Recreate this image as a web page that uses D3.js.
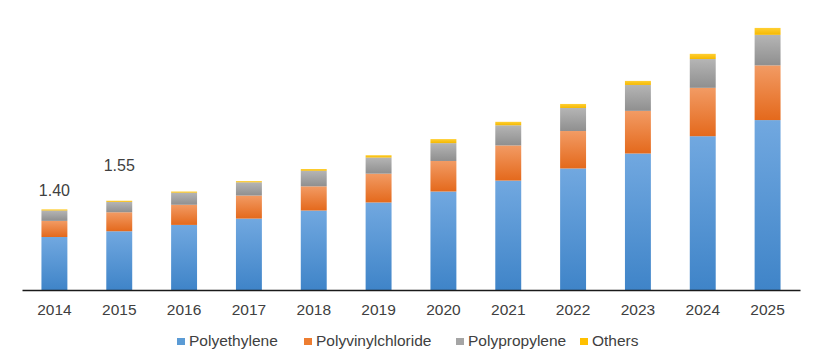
<!DOCTYPE html>
<html>
<head>
<meta charset="utf-8">
<script src="https://cdn.jsdelivr.net/npm/d3@7/dist/d3.min.js"></script>
<style>
  html, body { margin: 0; padding: 0; background: #fff; }
  svg { display: block; font-family: "Liberation Sans", Arial, sans-serif; }
</style>
</head>
<body>
<svg id="chart" width="820" height="350"></svg>
<script>
const years = ["2014","2015","2016","2017","2018","2019","2020","2021","2022","2023","2024","2025"];
const polyethylene      = [0.92, 1.02, 1.13, 1.24, 1.38, 1.52, 1.71, 1.90, 2.11, 2.37, 2.67, 2.95];
const polyvinylchloride = [0.28, 0.33, 0.35, 0.40, 0.42, 0.50, 0.53, 0.61, 0.65, 0.74, 0.84, 0.95];
const polypropylene     = [0.18, 0.18, 0.21, 0.23, 0.27, 0.28, 0.31, 0.35, 0.40, 0.45, 0.50, 0.53];
const others            = [0.02, 0.02, 0.02, 0.02, 0.03, 0.04, 0.07, 0.06, 0.07, 0.07, 0.09, 0.12];
const seriesNames = ["Polyethylene", "Polyvinylchloride", "Polypropylene", "Others"];
const valueLabels = [{year: "2014", text: "1.40"}, {year: "2015", text: "1.55"}];

const colors = {
  "Polyethylene":      ["#71a8e0", "#3f84c8"],
  "Polyvinylchloride": ["#f29b64", "#e4691c"],
  "Polypropylene":     ["#b5b5b5", "#8f8f8f"],
  "Others":            ["#ffcf33", "#f5b800"]
};
const legendColors = {
  "Polyethylene": "#5b9bd5", "Polyvinylchloride": "#ed7d31",
  "Polypropylene": "#a5a5a5", "Others": "#ffc000"
};

const rows = years.map((y, i) => ({
  year: y,
  "Polyethylene": polyethylene[i],
  "Polyvinylchloride": polyvinylchloride[i],
  "Polypropylene": polypropylene[i],
  "Others": others[i]
}));

const svg = d3.select("#chart");
const x = d3.scaleBand().domain(years).range([22, 800]).paddingInner(0.6).paddingOuter(0.3);
const y = d3.scaleLinear().domain([0, 5]).range([290, 2]);

const defs = svg.append("defs");
seriesNames.forEach((s, i) => {
  const g = defs.append("linearGradient").attr("id", "g" + i)
    .attr("x1", 0).attr("y1", 0).attr("x2", 0).attr("y2", 1);
  g.append("stop").attr("offset", "0%").attr("stop-color", colors[s][0]);
  g.append("stop").attr("offset", "100%").attr("stop-color", colors[s][1]);
});

const stacked = d3.stack().keys(seriesNames)(rows);

svg.append("g").selectAll("g").data(stacked).join("g")
  .attr("fill", (d, i) => `url(#g${i})`)
  .selectAll("rect").data(d => d).join("rect")
  .attr("x", d => x(d.data.year))
  .attr("width", x.bandwidth())
  .attr("y", d => y(d[1]))
  .attr("height", d => y(d[0]) - y(d[1]));

// axis
const xAxis = svg.append("g").attr("transform", "translate(0,290)")
  .call(d3.axisBottom(x).tickSize(0).tickPadding(10));
xAxis.select(".domain").attr("stroke", "#1a1a1a").attr("stroke-width", 1.5);
xAxis.selectAll("text").attr("font-size", "15.5px").attr("fill", "#404040")
  .attr("font-family", "Liberation Sans, Arial, sans-serif").attr("dy", "0.95em");

// value labels
const labelOffsets = {"2014": 13, "2015": 30};
svg.append("g").selectAll("text").data(valueLabels).join("text")
  .attr("x", d => x(d.year) + x.bandwidth() / 2)
  .attr("y", d => {
    const i = years.indexOf(d.year);
    const total = polyethylene[i] + polyvinylchloride[i] + polypropylene[i] + others[i];
    return y(total) - labelOffsets[d.year];
  })
  .attr("text-anchor", "middle")
  .attr("font-size", "16px")
  .attr("fill", "#404040")
  .text(d => d.text);

// legend
const legendX = [177, 304, 456, 580];
const lg = svg.append("g").selectAll("g").data(seriesNames).join("g")
  .attr("transform", (d, i) => `translate(${legendX[i]},0)`);
lg.append("rect").attr("x", 0).attr("y", 338).attr("width", 8).attr("height", 7)
  .attr("fill", d => legendColors[d]);
lg.append("text").attr("x", 12).attr("y", 346)
  .attr("font-size", "15.5px").attr("fill", "#404040").text(d => d);
</script>
</body>
</html>
